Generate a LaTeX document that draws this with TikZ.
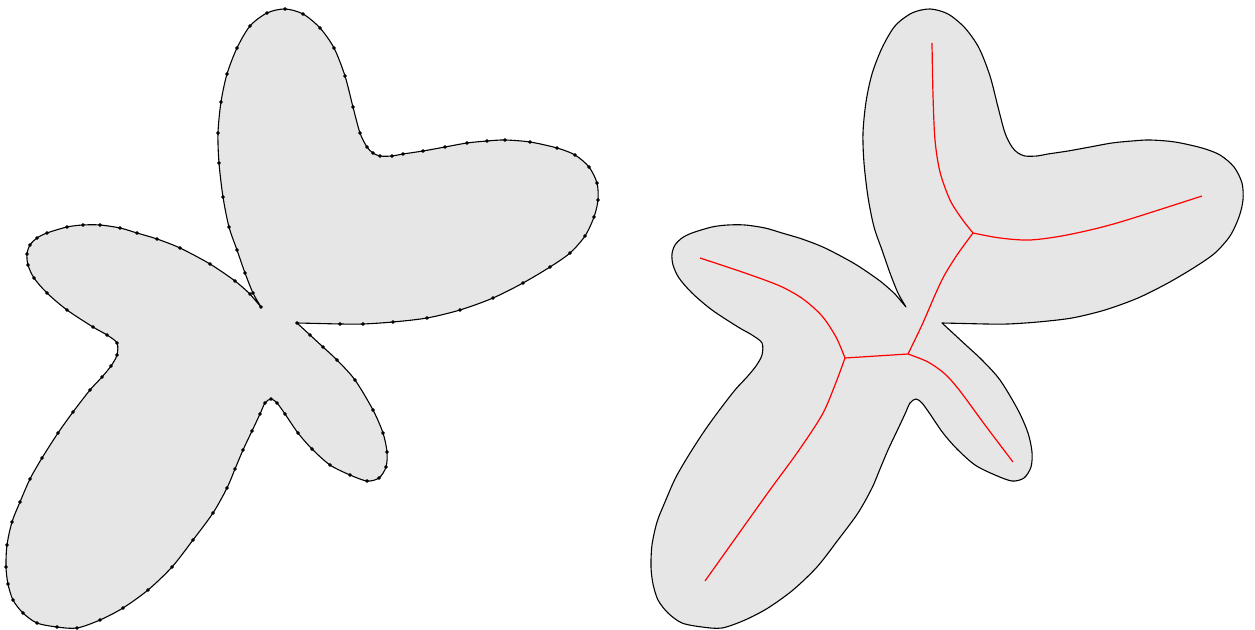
\documentclass[tikz,border=0pt]{standalone}
\usepackage{tikz}
\definecolor{shapegray}{RGB}{230,230,230}
\definecolor{axisred}{RGB}{255,0,0}
% outline of the shape, two smooth arcs meeting at the two cusps
\newcommand{\blobline}{plot[smooth, samplemarks] coordinates {(261,307) (253,293) (245,273) (237,250) (229,227) (223,197) (219,163) (218,133) (221,102) (227,74) (237,48) (250,26) (267,13) (285,9) (303,14) (320,28) (334,48) (345,76) (353,107) (360,133) (367,147) (373,153) (380,156) (392,156) (403,154) (423,151) (445,147) (467,143) (487,141) (505,140) (530,142) (557,148) (575,155) (589,167) (597,183) (598,200) (594,217) (585,236) (570,253) (550,267) (523,283) (493,298) (460,310) (427,318) (393,322) (363,324) (340,324)}
  -- plot[smooth, samplemarks] coordinates {(297,323) (310,335) (323,347) (337,360) (355,380) (373,410) (383,433) (387,452) (386,467) (379,478) (367,481) (350,475) (330,465) (312,449) (298,433) (285,414) (277,403) (271,399) (265,403) (260,414) (252,431) (243,450) (235,469) (227,488) (213,513) (193,540) (172,567) (148,590) (123,608) (100,620) (77,628) (57,627) (37,623) (23,613) (13,600) (8,584) (6,567) (7,545) (12,522) (20,502) (30,479) (42,458) (58,433) (73,412) (90,390) (102,377) (111,366) (117,355) (117,343) (107,335) (93,327) (67,310) (47,293) (34,278) (28,265) (27,254) (30,245) (37,238) (47,233) (67,227) (83,225) (100,225) (120,228) (137,233) (157,239) (180,248) (210,264) (235,281) (250,294)} -- cycle}

\begin{document}
\begin{tikzpicture}[x=0.5pt, y=-0.5pt,
    outline/.style={fill=shapegray, draw=black, line width=0.55pt, line join=round},
    samplemarks/.style={},
    medial/.style={draw=axisred, line width=0.6pt, line join=round}
]
\useasboundingbox (0,0) rectangle (1255,630);

% sampled boundary
\begin{scope}[samplemarks/.style={mark=*, mark size=0.65pt, mark options={fill=black}}]
\path[outline] \blobline;
\end{scope}

% smooth boundary with its skeleton
\begin{scope}[xshift=322.5pt]
\path[outline] \blobline;
\end{scope}

\coordinate (j1) at (973,233);
\coordinate (j2) at (908,354);
\coordinate (j3) at (845,358);

\draw[medial] plot[smooth] coordinates {(932,43) (933,95) (935,140) (940,172) (950,200) (962,219) (j1)};
\draw[medial] plot[smooth] coordinates {(j1) (1000,238) (1030,240) (1067,235) (1117,223) (1202,196)};
\draw[medial] plot[smooth] coordinates {(j1) (957,255) (944,276) (935,295) (922,325) (j2)};
\draw[medial] (j2) -- (j3);
\draw[medial] plot[smooth] coordinates {(j3) (836,337) (822,316) (803,299) (780,286) (745,273) (700,258)};
\draw[medial] plot[smooth] coordinates {(j3) (835,385) (822,415) (797,453) (767,494) (705,581)};
\draw[medial] plot[smooth] coordinates {(j2) (928,362) (945,374) (960,391) (985,425) (1013,462)};
\end{tikzpicture}
\end{document}
